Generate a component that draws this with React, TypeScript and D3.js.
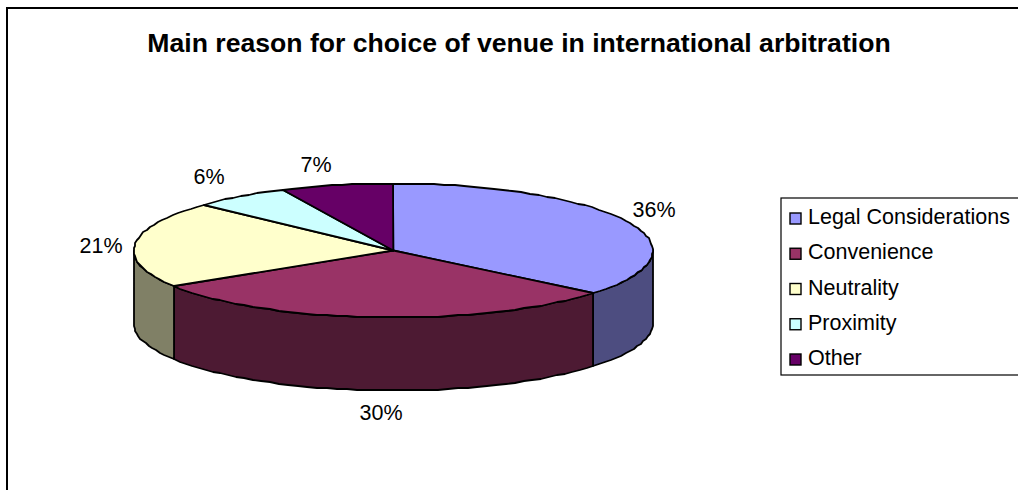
import React from "react";
import * as d3 from "d3";

const titleText = "Main reason for choice of venue in international arbitration";
const categories = ["Legal Considerations", "Convenience", "Neutrality", "Proximity", "Other"];
const shares = [36, 30, 21, 6, 7];
const topColors = ["#9999FF", "#993366", "#FFFFCC", "#CCFFFF", "#660066"];
const wallColors = ["#4D4D80", "#4D1A33", "#808066", "#668080", "#330033"];
const labelAnchors = [
  [654, 217],
  [381, 420],
  [101, 253],
  [209, 184],
  [316, 172],
];

const W = 1018;
const H = 490;
const cx = 393.3;
const cy = 250.5;
const rx = 259.5;
const ry = 67;
const depth = 73;

const ellipseX = d3.scaleLinear().domain([-1, 1]).range([cx - rx, cx + rx]);
const ellipseY = d3.scaleLinear().domain([-1, 1]).range([cy - ry, cy + ry]);

// Angles run clockwise from twelve o'clock. Rim points snap to whole pixels,
// which gives the outline its slightly stepped, low-resolution character.
const rimPoint = (a: number, drop = 0): [number, number] => [
  Math.round(ellipseX(Math.sin(a))),
  Math.round(ellipseY(-Math.cos(a)) + drop),
];

const arcSamples = (a0: number, a1: number) => {
  const n = Math.max(2, Math.ceil((a1 - a0) / 0.04));
  return d3.range(n + 1).map((i) => a0 + ((a1 - a0) * i) / n);
};

const line = d3.line();
const pieLayout = d3.pie<number>().sort(null).value((d) => d);
const slices = pieLayout(shares);

const topPath = (a0: number, a1: number) =>
  line([[cx, cy], ...arcSamples(a0, a1).map((a) => rimPoint(a))]) + "Z";

// Only the part of a slice facing the viewer (a quarter to three quarters of the turn) shows a wall.
const wallPath = (a0: number, a1: number) => {
  const lo = Math.max(a0, Math.PI / 2);
  const hi = Math.min(a1, (3 * Math.PI) / 2);
  if (hi <= lo) return null;
  const samples = arcSamples(lo, hi);
  const upper = samples.map((a) => rimPoint(a));
  const lower = samples.slice().reverse().map((a) => rimPoint(a, depth));
  return line([...upper, ...lower]) + "Z";
};

const legendBaseline = d3.scalePoint<string>().domain(categories).range([224, 365]);
const font = "'Liberation Sans', Arial, sans-serif";

export default function App() {
  return (
    <svg
      width={W}
      height={H}
      viewBox={`0 0 ${W} ${H}`}
      style={{ position: "absolute", left: 0, top: 0, background: "#fff" }}
      fontFamily={font}
    >
      <rect x={7} y={8} width={W + 20} height={H + 20} fill="#fff" stroke="#000" strokeWidth={2} />
      <text x={519} y={52} textAnchor="middle" fontSize={26.6} fontWeight="bold" fill="#000">
        {titleText}
      </text>

      {slices.map((s, i) => {
        const d = wallPath(s.startAngle, s.endAngle);
        return d ? (
          <path key={i} d={d} fill={wallColors[i]} stroke="#000" strokeWidth={1.8} strokeLinejoin="round" />
        ) : null;
      })}
      {slices.map((s, i) => (
        <path
          key={i}
          d={topPath(s.startAngle, s.endAngle)}
          fill={topColors[i]}
          stroke="#000"
          strokeWidth={1.8}
          strokeLinejoin="round"
        />
      ))}

      {shares.map((v, i) => (
        <text key={i} x={labelAnchors[i][0]} y={labelAnchors[i][1]} textAnchor="middle" fontSize={21.5} fill="#000">
          {v}%
        </text>
      ))}

      <rect x={781} y={198} width={W} height={177} fill="#fff" stroke="#000" strokeWidth={1.2} />
      {categories.map((c, i) => {
        const y = legendBaseline(c) as number;
        return (
          <g key={c}>
            <rect x={790} y={y - 11} width={11} height={11} fill={topColors[i]} stroke="#000" strokeWidth={1.4} />
            <text x={808} y={y} fontSize={21.5} fill="#000">
              {c}
            </text>
          </g>
        );
      })}
    </svg>
  );
}
